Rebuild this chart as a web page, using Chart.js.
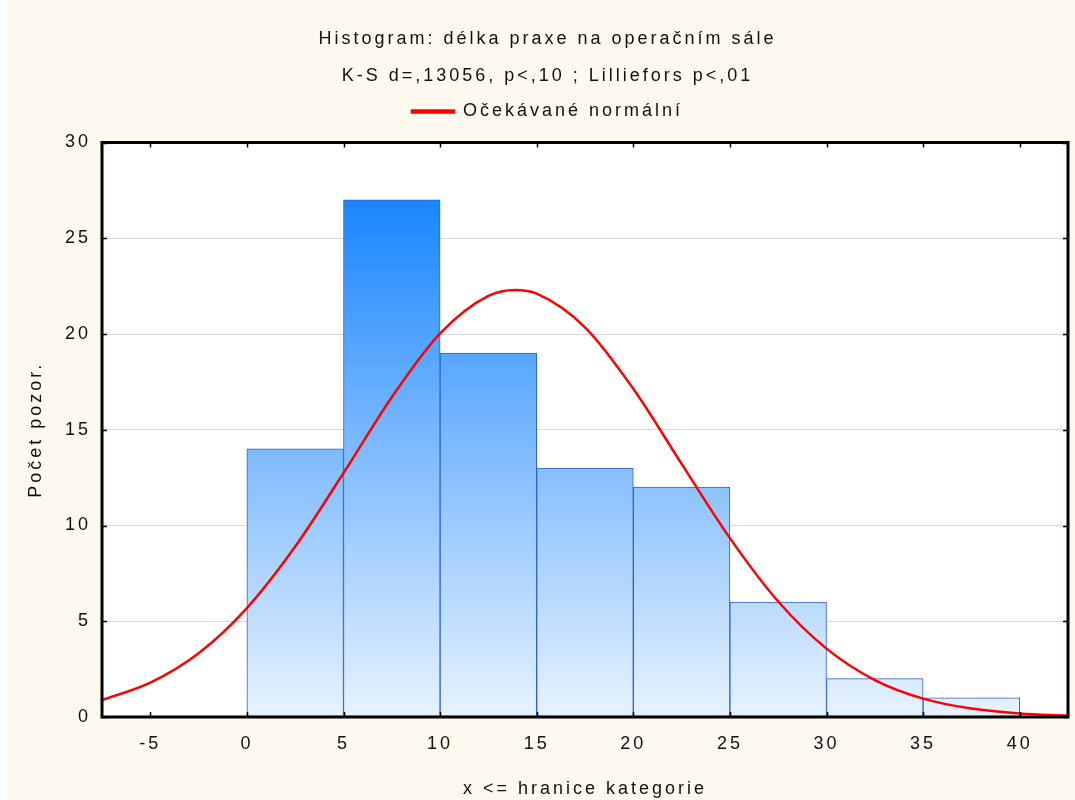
<!DOCTYPE html>
<html>
<head>
<meta charset="utf-8">
<script src="https://cdn.jsdelivr.net/npm/chart.js@4"></script>
<style>
  html, body { margin: 0; padding: 0; background: #ffffff; }
  #wrap { width: 1075px; height: 800px; }
</style>
</head>
<body>
<div id="wrap"><canvas id="graf"></canvas></div>
<script>
// Histogram - horní hranice tříd a četnosti
const hranice = [5, 10, 15, 20, 25, 30, 35, 40];
const cetnosti = [14, 27, 19, 13, 12, 6, 2, 1];

// Očekávané normální
const krivkaX = [-7.5, -5, -2.5, 0, 2.5, 5, 7.5, 10, 12.5, 13.9, 15, 17.5, 20, 22.5, 25, 27.5, 30, 32.5, 35, 37.5, 40, 42.5];
const krivkaY = [0.88, 1.79, 3.33, 5.69, 8.9, 12.74, 16.7, 20.03, 21.99, 22.3, 22.11, 20.35, 17.14, 13.22, 9.34, 6.03, 3.57, 1.93, 0.96, 0.44, 0.18, 0.07];

const xTicks = [-5, 0, 5, 10, 15, 20, 25, 30, 35, 40];
const yTicks = [0, 5, 10, 15, 20, 25, 30];

const font = "'Liberation Sans', Arial, sans-serif";
const textColor = '#111111';

// středy tříd pro sloupce
const sloupce = hranice.map((h, i) => ({ x: h - 2.5, y: cetnosti[i] }));
const krivka = krivkaX.map((x, i) => ({ x: x, y: krivkaY[i] }));

// Prostrkané písmo jako ve Statistice
const prostrkani = {
  id: 'prostrkani',
  beforeUpdate(chart) { chart.ctx.letterSpacing = '3px'; },
  beforeDraw(chart) { chart.ctx.letterSpacing = '3px'; }
};

// Pozadí, rámeček a vnitřní značky
const ramecek = {
  id: 'ramecek',
  beforeDraw(chart) {
    const { ctx, chartArea: a } = chart;
    ctx.save();
    ctx.fillStyle = '#fdf9ee';
    ctx.fillRect(7, 0, chart.width - 7, chart.height);
    ctx.fillStyle = '#ffffff';
    ctx.fillRect(a.left, a.top, a.right - a.left, a.bottom - a.top);
    ctx.restore();
  },
  afterDraw(chart) {
    const { ctx, chartArea: a, scales } = chart;
    ctx.save();
    ctx.strokeStyle = '#000000';
    ctx.lineWidth = 1.5;
    xTicks.forEach(v => {
      const px = Math.round(scales.x.getPixelForValue(v)) + 0.5;
      ctx.beginPath();
      ctx.moveTo(px, a.top); ctx.lineTo(px, a.top + 5);
      ctx.moveTo(px, a.bottom); ctx.lineTo(px, a.bottom - 5);
      ctx.stroke();
    });
    yTicks.forEach(v => {
      const py = Math.round(scales.y.getPixelForValue(v)) + 0.5;
      ctx.beginPath();
      ctx.moveTo(a.left, py); ctx.lineTo(a.left + 5, py);
      ctx.moveTo(a.right, py); ctx.lineTo(a.right - 5, py);
      ctx.stroke();
    });
    ctx.lineWidth = 3;
    ctx.strokeRect(a.left, a.top, a.right - a.left, a.bottom - a.top);
    ctx.restore();
  }
};

function gradient(context) {
  const chart = context.chart;
  const a = chart.chartArea;
  if (!a) return '#7cbafe';
  const top = chart.scales.y.getPixelForValue(Math.max(...cetnosti));
  const g = chart.ctx.createLinearGradient(0, top, 0, a.bottom);
  g.addColorStop(0, '#1a86fe');
  g.addColorStop(1, '#e8f3fe');
  return g;
}

new Chart(document.getElementById('graf'), {
  data: {
    datasets: [
      {
        type: 'line',
        label: 'Očekávané normální',
        data: krivka,
        borderColor: '#ff0000',
        backgroundColor: '#ff0000',
        borderWidth: 2.5,
        pointRadius: 0,
        cubicInterpolationMode: 'monotone',
        order: 0
      },
      {
        type: 'bar',
        label: 'Četnost',
        data: sloupce,
        backgroundColor: gradient,
        borderColor: '#2f62c8',
        borderWidth: 1,
        borderSkipped: false,
        barPercentage: 1,
        categoryPercentage: 1,
        order: 1
      }
    ]
  },
  options: {
    responsive: true,
    maintainAspectRatio: false,
    animation: false,
    layout: { padding: { left: 27, right: 7, top: 0, bottom: 0 } },
    plugins: {
      title: {
        display: true,
        text: 'Histogram: délka praxe na operačním sále',
        color: textColor,
        font: { family: font, size: 18, weight: 'normal', lineHeight: 1 },
        padding: { top: 30, bottom: 0 }
      },
      subtitle: {
        display: true,
        text: 'K-S d=,13056, p<,10 ; Lilliefors p<,01',
        color: textColor,
        font: { family: font, size: 18, weight: 'normal', lineHeight: 0.5 },
        padding: { top: 24, bottom: 0 }
      },
      legend: {
        display: true,
        labels: {
          color: textColor,
          font: { family: font, size: 18 },
          boxWidth: 42,
          boxHeight: 2,
          padding: 21.5,
          filter: item => item.datasetIndex === 0
        }
      },
      tooltip: { enabled: false }
    },
    scales: {
      x: {
        type: 'linear',
        offset: false,
        min: -7.5,
        max: 42.5,
        afterBuildTicks: s => { s.ticks = xTicks.map(v => ({ value: v })); },
        afterFit: s => { s.height = 83; },
        grid: { display: false, offset: false },
        border: { display: false },
        ticks: {
          color: textColor,
          font: { family: font, size: 18 },
          padding: 8,
          maxRotation: 0
        },
        title: {
          display: true,
          text: 'x <= hranice kategorie',
          color: textColor,
          font: { family: font, size: 18 },
          padding: { top: 14, bottom: 0 }
        }
      },
      // prázdná horní osa jen jako mezera pod legendou
      mezera: {
        type: 'linear',
        position: 'top',
        display: true,
        afterFit: s => { s.height = 12; },
        grid: { display: false },
        border: { display: false },
        ticks: { display: false }
      },
      y: {
        min: 0,
        max: 30,
        afterBuildTicks: s => { s.ticks = yTicks.map(v => ({ value: v })); },
        afterFit: s => { s.width = 75; },
        grid: { color: '#d9d9d9', drawTicks: false },
        border: { display: false },
        ticks: {
          color: textColor,
          font: { family: font, size: 18 },
          padding: 11
        },
        title: {
          display: true,
          text: 'Počet pozor.',
          color: textColor,
          font: { family: font, size: 18, lineHeight: 1 },
          padding: { top: 0, bottom: 0 }
        }
      }
    }
  },
  plugins: [prostrkani, ramecek]
});
</script>
</body>
</html>
